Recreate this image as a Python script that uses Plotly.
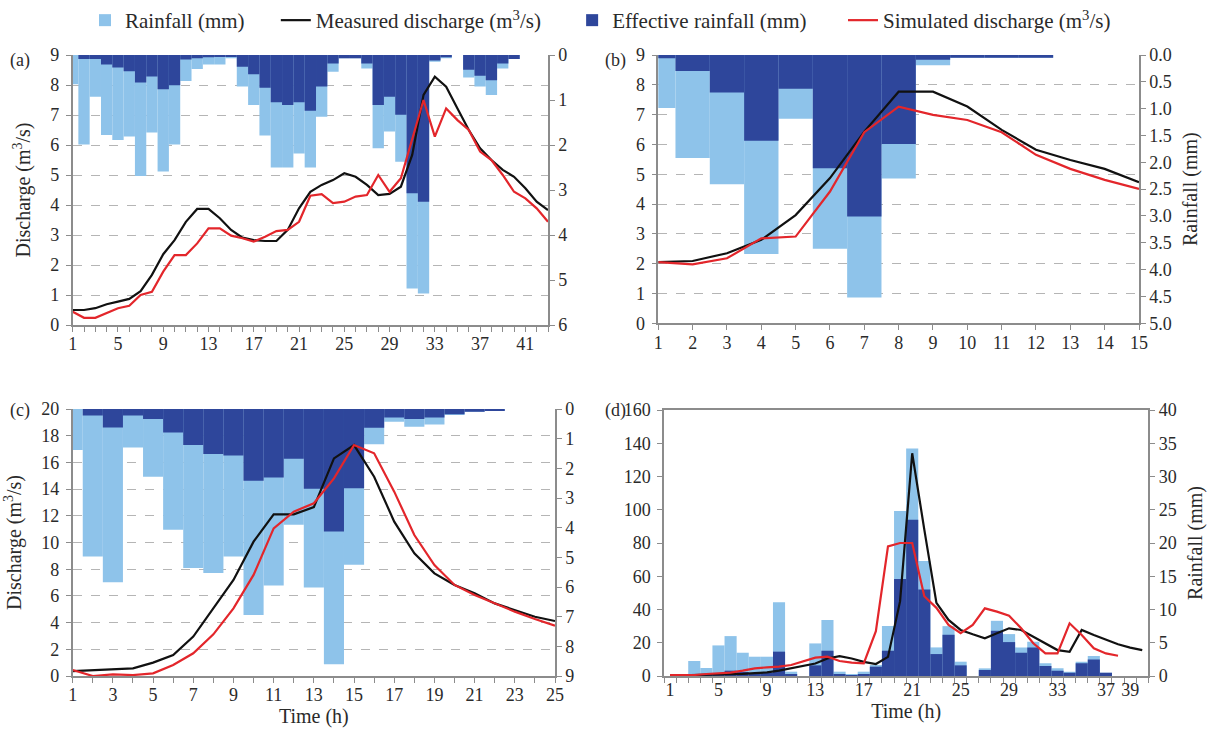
import plotly.graph_objects as go
from plotly.subplots import make_subplots

W, H = 1210, 740
FONT = "Liberation Serif, DejaVu Serif, Times New Roman, serif"
LIGHT = "#8ec3ea"
DARK = "#2e469b"
RED = "#e3262b"
BLACK = "#111111"
AXC = "#8c8c8c"
TXT = "#2a2a2a"

# ---------------- data ----------------
time_a = list(range(1, 44))
rain_a = [0.65, 1.99, 0.93, 1.78, 1.89, 1.81, 2.69, 1.72, 2.59, 1.99, 0.58, 0.31, 0.21, 0.21, 0.07,
          0.70, 1.11, 1.79, 2.50, 2.50, 2.19, 2.50, 1.37, 0.37, 0.07, 0.07, 0.30, 2.07, 1.70, 2.37,
          5.19, 5.30, 0.15, 0.07, 0.0, 0.50, 0.70, 0.89, 0.30, 0.09, 0.0, 0.0, 0.0]
eff_a = [0.0, 0.09, 0.09, 0.21, 0.28, 0.36, 0.61, 0.48, 0.76, 0.67, 0.10, 0.07, 0.05, 0.04, 0.03,
         0.26, 0.43, 0.73, 1.05, 1.11, 1.05, 1.24, 0.70, 0.19, 0.07, 0.07, 0.19, 1.11, 0.93, 1.33,
         3.07, 3.26, 0.12, 0.05, 0.0, 0.33, 0.46, 0.56, 0.19, 0.09, 0.0, 0.0, 0.0]
meas_a = [0.5, 0.5, 0.56, 0.69, 0.78, 0.87, 1.13, 1.67, 2.36, 2.83, 3.44, 3.87, 3.87, 3.56, 3.17,
          2.91, 2.83, 2.80, 2.80, 3.17, 3.89, 4.44, 4.67, 4.83, 5.06, 4.94, 4.67, 4.33, 4.37, 4.61,
          5.67, 7.67, 8.28, 7.94, 7.22, 6.5, 5.89, 5.5, 5.17, 4.94, 4.56, 4.11, 3.83]
sim_a = [0.44, 0.24, 0.24, 0.39, 0.56, 0.64, 1.0, 1.11, 1.78, 2.33, 2.33, 2.72, 3.22, 3.22, 2.98,
         2.89, 2.78, 2.94, 3.13, 3.17, 3.44, 4.31, 4.36, 4.06, 4.11, 4.28, 4.33, 5.0, 4.44, 4.89,
         6.22, 7.5, 6.28, 7.22, 6.83, 6.5, 5.78, 5.5, 5.0, 4.44, 4.22, 3.89, 3.44]

time_b = list(range(1, 16))
rain_b = [0.99, 1.92, 2.41, 3.71, 1.19, 3.61, 4.52, 2.30, 0.19, 0.05, 0.05, 0.05, 0.0, 0.0, 0.0]
eff_b = [0.06, 0.30, 0.70, 1.60, 0.63, 2.11, 3.01, 1.66, 0.09, 0.05, 0.05, 0.05, 0.0, 0.0, 0.0]
meas_b = [2.05, 2.09, 2.35, 2.80, 3.63, 4.87, 6.43, 7.77, 7.77, 7.27, 6.49, 5.82, 5.48, 5.18, 4.73]
sim_b = [2.05, 1.98, 2.18, 2.85, 2.91, 4.42, 6.41, 7.27, 6.99, 6.82, 6.41, 5.65, 5.18, 4.81, 4.51]

time_c = list(range(1, 26))
rain_c = [1.38, 4.97, 5.84, 1.30, 2.28, 4.07, 5.36, 5.53, 4.97, 6.94, 5.95, 3.90, 6.02, 8.60, 5.25,
          1.19, 0.43, 0.60, 0.52, 0.20, 0.09, 0.05, 0.0, 0.0, 0.0]
eff_c = [0.0, 0.22, 0.62, 0.22, 0.34, 0.79, 1.21, 1.52, 1.57, 2.42, 2.31, 1.68, 2.69, 4.13, 2.67,
         0.63, 0.29, 0.34, 0.29, 0.18, 0.09, 0.05, 0.0, 0.0, 0.0]
meas_c = [0.37, 0.42, 0.50, 0.57, 1.0, 1.57, 2.95, 5.07, 7.19, 10.06, 12.11, 12.11, 12.65, 16.3, 17.3,
          14.93, 11.56, 9.19, 7.69, 6.82, 6.19, 5.44, 4.94, 4.44, 4.12]
sim_c = [0.45, 0.0, 0.12, 0.07, 0.2, 0.82, 1.7, 3.12, 5.07, 7.57, 11.06, 12.31, 12.94, 14.8, 17.3,
         16.68, 13.81, 10.56, 8.31, 6.82, 6.07, 5.44, 4.82, 4.27, 3.77]

time_d = list(range(1, 41))
rain_d = [0.0, 0.0, 2.26, 1.2, 4.6, 6.0, 3.5, 2.9, 2.9, 11.08, 0.65, 0.0, 4.9, 8.42, 0.65, 0.3, 0.65,
          1.65, 7.52, 24.8, 34.2, 17.3, 4.3, 7.5, 2.15, 0.0, 1.15, 8.3, 6.3, 4.3, 5.16, 1.9, 1.15,
          0.65, 2.15, 3.0, 0.5, 0.0, 0.0, 0.0]
eff_d = [0.0, 0.0, 0.0, 0.2, 0.3, 0.8, 0.6, 0.4, 0.5, 3.66, 0.2, 0.0, 1.6, 3.8, 0.3, 0.15, 0.2,
         1.4, 3.8, 14.6, 23.5, 13.0, 3.3, 6.2, 1.6, 0.0, 0.9, 6.8, 5.1, 3.5, 4.3, 1.5, 0.8, 0.5,
         1.9, 2.5, 0.5, 0.0, 0.0, 0.0]
meas_d = [0.3, 0.4, 0.5, 0.6, 0.8, 1.0, 1.3, 1.7, 2.2, 3.2, 4.5, 6.0, 7.5, 10.5, 12.0, 10.5, 8.5,
          7.2, 11.5, 45, 134, 88, 44, 33.7, 27.7, 25.1, 22.7, 25.7, 28.7, 27.7, 23.7, 19.7, 15.6,
          14.6, 27.7, 24.7, 21.7, 19.1, 17.1, 15.6]
time_d_sim = list(range(1, 39))
sim_d = [0.6, 0.6, 0.6, 1.2, 1.6, 2.0, 3.2, 4.6, 5.2, 5.6, 6.6, 8.6, 11.0, 11.6, 9.0, 8.0, 7.6,
         27, 78, 80, 80, 48, 41, 30.7, 25.7, 30.7, 40.7, 38.7, 36.3, 28.7, 19.7, 13.6, 13.6, 31.7,
         24.7, 16.7, 13.6, 12.2]

labels_a = [1, 5, 9, 13, 17, 21, 25, 29, 33, 37, 41]
labels_b = list(range(1, 16))
labels_c = list(range(1, 26, 2))
labels_d = [1, 5, 9, 13, 17, 21, 25, 29, 33, 37, 39]

def fx(a, b):
    return [a / W, b / W]

def fy(top, bottom):
    return [1 - bottom / H, 1 - top / H]

tickfont = dict(family=FONT, size=18, color=TXT)
titlefont = dict(family=FONT, size=20, color=TXT)

fig = make_subplots(rows=2, cols=2, specs=[[{"secondary_y": True}, {"secondary_y": True}],
                                           [{"secondary_y": True}, {"secondary_y": True}]])

panels = [
    dict(r=1, c=1, t=time_a, rain=rain_a, eff=eff_a, tm=time_a, meas=meas_a, ts=time_a, sim=sim_a,
         xdom=fx(72.7, 548), ydom=fy(55, 325), xrange=[1, 43], xt=labels_a,
         qrange=[0, 9], qdtick=1, rrange=[6, 0], rdtick=1, rfmt=None, grid=True,
         qtitle="Discharge (m<sup>3</sup>/s)", rtitle=None, xtitle=None, cat=False),
    dict(r=1, c=2, t=time_b, rain=rain_b, eff=eff_b, tm=time_b, meas=meas_b, ts=time_b, sim=sim_b,
         xdom=fx(658.3, 1139), ydom=fy(55, 323.3), xrange=[1, 15], xt=labels_b,
         qrange=[0, 9], qdtick=1, rrange=[5, 0], rdtick=0.5, rfmt=".1f", grid=True,
         qtitle=None, rtitle="Rainfall (mm)", xtitle=None, cat=False),
    dict(r=2, c=1, t=time_c, rain=rain_c, eff=eff_c, tm=time_c, meas=meas_c, ts=time_c, sim=sim_c,
         xdom=fx(72.7, 555), ydom=fy(409, 676), xrange=[1, 25], xt=labels_c,
         qrange=[0, 20], qdtick=2, rrange=[9, 0], rdtick=1, rfmt=None, grid=True,
         qtitle="Discharge (m<sup>3</sup>/s)", rtitle=None, xtitle="Time (h)", cat=False),
    dict(r=2, c=2, t=time_d, rain=rain_d, eff=eff_d, tm=time_d, meas=meas_d, ts=time_d_sim, sim=sim_d,
         xdom=fx(664, 1148.3), ydom=fy(410, 676), xrange=[0.5, 40.5], xt=labels_d,
         qrange=[0, 160], qdtick=20, rrange=[0, 40], rdtick=5, rfmt=None, grid=False,
         qtitle=None, rtitle="Rainfall (mm)", xtitle="Time (h)", cat=True),
]

NB = "\u00a0"
for i, p in enumerate(panels):
    first = i == 0
    r, c = p["r"], p["c"]
    # bars on the primary (base) axis, lines on the overlaying axis so they stay on top
    fig.add_trace(go.Bar(x=p["t"], y=p["rain"], width=1, marker=dict(color=LIGHT, line=dict(width=0)),
                         name="Rainfall (mm)" + NB * 5, showlegend=first),
                  row=r, col=c, secondary_y=False)
    fig.add_trace(go.Scatter(x=p["tm"], y=p["meas"], mode="lines", line=dict(color=BLACK, width=2.2),
                             name="Measured discharge (m<sup>3</sup>/s)" + NB * 5, showlegend=first),
                  row=r, col=c, secondary_y=True)
    fig.add_trace(go.Bar(x=p["t"], y=p["eff"], width=1, marker=dict(color=DARK, line=dict(width=0)),
                         name="Effective rainfall (mm)" + NB * 6, showlegend=first),
                  row=r, col=c, secondary_y=False)
    fig.add_trace(go.Scatter(x=p["ts"], y=p["sim"], mode="lines", line=dict(color=RED, width=2.2),
                             name="Simulated discharge (m<sup>3</sup>/s)", showlegend=first),
                  row=r, col=c, secondary_y=True)

    lo, hi = p["xrange"]
    if p["cat"]:
        # labels centred on each hour, tick marks on the hour boundaries
        fig.update_xaxes(tickmode="array", tickvals=p["xt"], ticktext=[str(v) for v in p["xt"]],
                         ticks="", minor=dict(tickmode="array",
                                              tickvals=[lo + k for k in range(int(hi - lo) + 1)],
                                              ticks="outside", ticklen=5, tickcolor=AXC, showgrid=False),
                         row=r, col=c)
    else:
        tv = list(range(int(lo), int(hi) + 1))
        tt = [str(v) if v in p["xt"] else "" for v in tv]
        fig.update_xaxes(tickmode="array", tickvals=tv, ticktext=tt, ticks="outside", row=r, col=c)
    fig.update_xaxes(domain=p["xdom"], range=p["xrange"], showline=True, linecolor=AXC, linewidth=1.5,
                     showgrid=False, zeroline=False, tickfont=tickfont, ticklen=5, tickcolor=AXC,
                     mirror=p["cat"], ticklabelstandoff=-3, automargin=False, row=r, col=c)
    if p["xtitle"]:
        fig.update_xaxes(title_text=p["xtitle"], title_font=titlefont, title_standoff=0, row=r, col=c)

    # rainfall axis (primary, drawn on the right)
    fig.update_yaxes(domain=p["ydom"], side="right", range=p["rrange"], tickmode="linear", tick0=0,
                     dtick=p["rdtick"], showline=True, linecolor=AXC, linewidth=1.5, ticks="outside",
                     ticklen=5, tickcolor=AXC, showgrid=False, zeroline=False, tickfont=tickfont,
                     automargin=False, row=r, col=c, secondary_y=False)
    if p["rfmt"]:
        fig.update_yaxes(tickformat=p["rfmt"], row=r, col=c, secondary_y=False)
    if p["rtitle"]:
        fig.update_yaxes(title_text=p["rtitle"], title_font=titlefont, title_standoff=12,
                         row=r, col=c, secondary_y=False)

    # discharge axis (secondary, drawn on the left)
    fig.update_yaxes(side="left", range=p["qrange"], tickmode="linear", tick0=0, dtick=p["qdtick"],
                     showline=True, linecolor=AXC, linewidth=1.5, ticks="outside", ticklen=5,
                     tickcolor=AXC, showgrid=p["grid"], gridcolor="#b5b5b5", griddash="dash",
                     gridwidth=1, zeroline=False, tickfont=tickfont, ticklabelstandoff=3,
                     automargin=False, row=r, col=c, secondary_y=True)
    if p["qtitle"]:
        fig.update_yaxes(title_text=p["qtitle"], title_font=titlefont, title_standoff=14,
                         row=r, col=c, secondary_y=True)

annos = []
for lab, xp, yp in [("(a)", 8, 60), ("(b)", 603, 60), ("(c)", 8, 410), ("(d)", 603, 410)]:
    annos.append(dict(text=lab, x=xp / W, y=1 - yp / H, xref="paper", yref="paper", xanchor="left",
                      yanchor="middle", showarrow=False, font=dict(family=FONT, size=18, color=TXT)))

fig.update_layout(width=W, height=H, margin=dict(l=0, r=0, t=0, b=0), barmode="overlay",
                  plot_bgcolor="white", paper_bgcolor="white", annotations=annos,
                  font=dict(family=FONT, color=TXT),
                  legend=dict(orientation="h", x=85 / W, xanchor="left", y=1, yanchor="top",
                              font=dict(family=FONT, size=21, color=TXT), bgcolor="rgba(0,0,0,0)",
                              traceorder="normal"))

# remove the page's default 8px body margin so the figure sits at the window's top-left corner
fig.write_html("out.html", config={"displayModeBar": False},
               post_script="document.body.style.margin='0px';")
